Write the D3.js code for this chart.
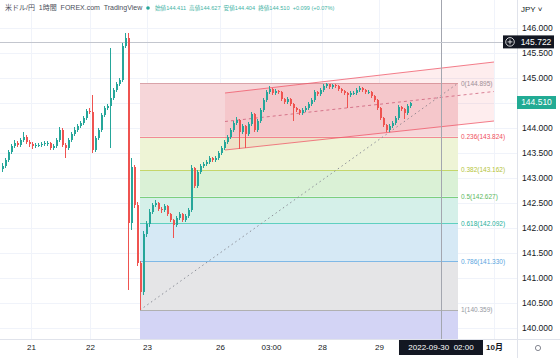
<!DOCTYPE html>
<html><head><meta charset="utf-8">
<script src="https://cdn.jsdelivr.net/npm/d3@7"></script>
<style>
html,body{margin:0;padding:0;background:#fff;}
svg{display:block;font-family:"Liberation Sans","Noto Sans CJK JP",Arial,sans-serif;}
</style></head>
<body><svg id="c" width="560" height="358"></svg>
<script>
// ---- data ----
const opens = [143.18,143.24,143.36,143.52,143.64,143.70,143.66,143.76,143.82,143.72,
143.68,143.64,143.66,143.66,143.68,143.70,143.70,143.60,143.64,143.76,
143.96,143.66,143.60,143.76,143.88,143.96,144.04,144.10,144.20,144.34,
144.32,143.56,143.80,143.96,144.26,144.40,144.44,144.60,144.76,144.88,
144.96,145.64,145.80,142.10,143.22,142.46,141.30,140.72,141.88,142.08,
142.32,142.46,142.50,142.38,142.36,142.44,142.28,142.16,142.06,142.20,
142.28,142.16,142.24,142.36,143.20,142.84,143.12,143.24,143.28,143.32,
143.40,143.36,143.40,143.50,143.60,143.72,143.82,143.96,144.10,144.16,
143.92,144.04,143.88,144.08,144.28,143.96,144.14,144.36,144.56,144.72,
144.78,144.70,144.74,144.72,144.58,144.52,144.58,144.48,144.40,144.36,
144.30,144.36,144.40,144.48,144.56,144.72,144.68,144.76,144.84,144.88,
144.82,144.86,144.84,144.78,144.74,144.70,144.66,144.70,144.70,144.76,
144.80,144.76,144.72,144.72,144.64,144.56,144.40,144.20,144.06,143.96,
144.04,144.10,144.20,144.42,144.38,144.30,144.44];
const closes = [143.24,143.36,143.52,143.64,143.70,143.66,143.76,143.82,143.72,143.68,
143.64,143.66,143.66,143.68,143.70,143.70,143.60,143.64,143.76,143.96,
143.66,143.60,143.76,143.88,143.96,144.04,144.10,144.20,144.34,144.32,
143.56,143.80,143.96,144.26,144.40,144.44,144.60,144.76,144.88,144.96,
145.64,145.80,142.10,143.22,142.46,141.30,140.72,141.88,142.08,142.32,
142.46,142.50,142.38,142.36,142.44,142.28,142.16,142.06,142.20,142.28,
142.16,142.24,142.36,143.20,142.84,143.12,143.24,143.28,143.32,143.40,
143.36,143.40,143.50,143.60,143.72,143.82,143.96,144.10,144.16,143.92,
144.04,143.88,144.08,144.28,143.96,144.14,144.36,144.56,144.72,144.78,
144.70,144.74,144.72,144.58,144.52,144.58,144.48,144.40,144.36,144.30,
144.36,144.40,144.48,144.56,144.72,144.68,144.76,144.84,144.88,144.82,
144.86,144.84,144.78,144.74,144.70,144.66,144.70,144.70,144.76,144.80,
144.76,144.72,144.72,144.64,144.56,144.40,144.20,144.06,143.96,144.04,
144.10,144.20,144.42,144.38,144.30,144.44,144.51];
const highs = [143.30,143.40,143.56,143.68,143.76,143.74,143.80,143.92,143.86,143.76,
143.72,143.70,143.70,143.72,143.74,143.74,143.72,143.68,143.80,144.02,
144.00,143.70,143.80,143.92,144.02,144.08,144.14,144.24,144.38,144.40,
144.66,143.84,144.00,144.30,144.44,144.48,145.60,144.80,144.92,145.00,
145.70,145.90,145.90,143.40,143.26,142.52,141.34,141.95,142.14,142.38,
142.50,142.56,142.52,142.42,142.48,142.46,142.30,142.18,142.24,142.32,
142.30,142.28,142.40,143.26,143.22,143.16,143.28,143.32,143.36,143.44,
143.42,143.44,143.54,143.64,143.76,143.86,144.00,144.14,144.22,144.18,
144.08,144.06,144.12,144.32,144.30,144.18,144.40,144.60,144.76,144.84,
144.80,144.78,144.76,144.74,144.60,144.62,144.60,144.50,144.42,144.38,
144.40,144.44,144.52,144.60,144.76,144.74,144.80,144.88,144.895,144.89,
144.89,144.88,144.86,144.80,144.76,144.72,144.74,144.74,144.80,144.84,
144.82,144.78,144.76,144.74,144.66,144.58,144.42,144.22,144.08,144.08,
144.14,144.24,144.46,144.44,144.40,144.48,144.53];
const lows = [143.12,143.20,143.32,143.48,143.60,143.62,143.62,143.72,143.68,143.62,
143.58,143.60,143.62,143.62,143.64,143.64,143.56,143.56,143.60,143.72,
143.62,143.40,143.56,143.72,143.84,143.92,144.00,144.06,144.16,144.28,
143.50,143.52,143.76,143.92,144.22,144.36,143.60,144.56,144.72,144.84,
144.92,145.60,140.76,141.96,142.40,141.25,140.36,140.66,141.82,142.02,
142.28,142.42,142.34,142.30,142.32,142.24,142.12,141.80,142.02,142.16,
142.12,142.12,142.20,142.32,142.80,142.80,143.08,143.20,143.24,143.28,
143.32,143.32,143.36,143.46,143.56,143.68,143.78,143.92,144.06,143.58,
143.88,143.60,143.84,144.04,143.92,143.92,144.10,144.32,144.52,144.68,
144.66,144.66,144.68,144.54,144.48,144.48,144.44,144.14,144.32,144.26,
144.26,144.32,144.36,144.44,144.52,144.64,144.64,144.72,144.80,144.78,
144.78,144.80,144.74,144.70,144.66,144.40,144.62,144.66,144.66,144.72,
144.72,144.68,144.68,144.60,144.52,144.36,144.16,144.02,143.92,143.92,
144.00,144.06,144.16,144.34,144.18,144.26,144.40];

const priceTicks = [140,140.5,141,141.5,142,142.5,143,143.5,144,144.5,145,145.5,146];
const timeTickPos = [9.67,29.33,48.33,72.67,89.67,106.67,125.67,164];
const timeTickLabels = ["21","22","23","26","03:00","28","29","10月"];

const fibRatios = [0,0.236,0.382,0.5,0.618,0.786,1];
const fibPrices = [144.895,143.824,143.162,142.627,142.092,141.330,140.359];
const fibExtPrice = 137.556; // 1.618 level (off-screen)
const fibLineColors = ["#d9a3a9","#f28b95","#c5d66a","#7ccf7e","#5fd0c0","#7fb8e6","#b0b0b0"];
const fibBandColors = ["#f6d6d9","#eef4d6","#daf1d6","#d5f0e9","#d6e9f5","#e5e5e7","#d3d4f5"];
const fibLabelColors = ["#9598a1","#ef4f5c","#b4c43a","#5cb860","#26b09b","#5aa6e0","#9598a1"];
const fibStartIdx = 46, fibEndIdx = 152;

const channelIdx = [74.33, 164];
const channelUpper = [144.70, 145.32];
const channelLower = [143.56, 144.14];

const crossIdx = 146.33, crossPrice = 145.722, crossTimeLabel = "2022-09-30  02:00";
const lastPrice = 144.510;
const headerTitle = "米ドル/円  1時間  FOREX.com  TradingView";
const headerOHLC = "始値144.411  高値144.627  安値144.404  終値144.510  +0.099 (+0.07%)";

// ---- layout ----
const W = 560, H = 358, plotR = 517, plotB = 339;
const svg = d3.select("#c");
const x = d3.scaleLinear().domain([0, 136]).range([2, 410]);
const y = d3.scaleLinear().domain([140, 146]).range([328, 28]);
const up = "#26a69a", dn = "#ef5350";

// grid
const grid = svg.append("g");
grid.selectAll("line.h").data(priceTicks).join("line")
  .attr("x1", 0).attr("x2", plotR).attr("y1", d => Math.round(y(d)) + 0.5).attr("y2", d => Math.round(y(d)) + 0.5)
  .attr("stroke", "#f0f3fa");
grid.selectAll("line.v").data(timeTickPos).join("line")
  .attr("x1", d => Math.round(x(d)) + 0.5).attr("x2", d => Math.round(x(d)) + 0.5).attr("y1", 0).attr("y2", plotB)
  .attr("stroke", "#f0f3fa");

// fib bands
const clip = svg.append("clipPath").attr("id", "pc").append("rect").attr("x", 0).attr("y", 0).attr("width", plotR).attr("height", plotB);
const fg = svg.append("g").attr("clip-path", "url(#pc)");
const bandEdges = fibPrices.concat([fibExtPrice]);
const fx0 = x(fibStartIdx), fx1 = x(fibEndIdx);
for (let i = 0; i < bandEdges.length - 1; i++) {
  fg.append("rect").attr("x", fx0).attr("width", fx1 - fx0)
    .attr("y", y(bandEdges[i])).attr("height", y(bandEdges[i + 1]) - y(bandEdges[i]))
    .attr("fill", fibBandColors[i]);
}
fg.selectAll("line.fib").data(fibPrices).join("line")
  .attr("x1", fx0).attr("x2", fx1).attr("y1", d => Math.round(y(d)) + 0.5).attr("y2", d => Math.round(y(d)) + 0.5)
  .attr("stroke", (d, i) => fibLineColors[i]).attr("stroke-width", 1);
fg.selectAll("text.fib").data(fibPrices).join("text")
  .attr("x", fx1 + 3).attr("y", d => y(d)).attr("dy", "0.35em")
  .attr("font-size", 6.5).attr("fill", (d, i) => fibLabelColors[i])
  .text((d, i) => fibRatios[i] + "(" + d.toFixed(3) + ")");
// fib trend (dotted)
fg.append("line").attr("x1", fx0).attr("y1", y(fibPrices[6])).attr("x2", fx1).attr("y2", y(fibPrices[0]))
  .attr("stroke", "#8d9099").attr("stroke-dasharray", "1.5,3").attr("stroke-width", 1);

// channel
const cx0 = x(channelIdx[0]), cx1 = x(channelIdx[1]);
fg.append("path").attr("d", d3.line()([[cx0, y(channelUpper[0])], [cx1, y(channelUpper[1])], [cx1, y(channelLower[1])], [cx0, y(channelLower[0])]]) + "Z")
  .attr("fill", "rgba(242,54,69,0.09)");
[channelUpper, channelLower].forEach(c => {
  fg.append("line").attr("x1", cx0).attr("y1", y(c[0])).attr("x2", cx1).attr("y2", y(c[1]))
    .attr("stroke", "rgba(239,83,100,0.75)").attr("stroke-width", 1);
});
fg.append("line").attr("x1", cx0).attr("y1", y((channelUpper[0] + channelLower[0]) / 2))
  .attr("x2", cx1).attr("y2", y((channelUpper[1] + channelLower[1]) / 2))
  .attr("stroke", "rgba(200,80,110,0.7)").attr("stroke-dasharray", "3,3").attr("stroke-width", 1);

// crosshair
svg.append("line").attr("x1", Math.round(x(crossIdx)) + 0.5).attr("x2", Math.round(x(crossIdx)) + 0.5)
  .attr("y1", 0).attr("y2", plotB).attr("stroke", "#a3a6af").attr("stroke-width", 1);
svg.append("line").attr("x1", 0).attr("x2", plotR).attr("y1", Math.round(y(crossPrice)) + 0.5).attr("y2", Math.round(y(crossPrice)) + 0.5)
  .attr("stroke", "#c3c6ce").attr("stroke-width", 1);

// candles
const idx = d3.range(closes.length);
const cg = svg.append("g").attr("shape-rendering", "crispEdges");
cg.selectAll("line.w").data(idx).join("line")
  .attr("x1", i => Math.round(x(i)) + 0.5).attr("x2", i => Math.round(x(i)) + 0.5)
  .attr("y1", i => y(highs[i])).attr("y2", i => y(lows[i]))
  .attr("stroke", i => closes[i] >= opens[i] ? up : dn).attr("stroke-width", 1);
cg.selectAll("rect.b").data(idx).join("rect")
  .attr("x", i => Math.round(x(i)) - 0.5).attr("width", 2)
  .attr("y", i => y(Math.max(opens[i], closes[i])))
  .attr("height", i => Math.max(1, Math.abs(y(opens[i]) - y(closes[i]))))
  .attr("fill", i => closes[i] >= opens[i] ? up : dn);

// separators
svg.append("rect").attr("x", plotR).attr("y", 0).attr("width", W - plotR).attr("height", H).attr("fill", "#fff");
svg.append("rect").attr("x", 0).attr("y", plotB).attr("width", W).attr("height", H - plotB).attr("fill", "#fff");
svg.append("line").attr("x1", plotR + 0.5).attr("x2", plotR + 0.5).attr("y1", 0).attr("y2", H).attr("stroke", "#e0e3eb");
svg.append("line").attr("x1", 0).attr("x2", W).attr("y1", plotB + 0.5).attr("y2", plotB + 0.5).attr("stroke", "#e0e3eb");

// price axis
const ya = svg.append("g").attr("transform", `translate(${plotR + 5},0)`)
  .call(d3.axisRight(y).tickValues(priceTicks).tickSize(0).tickPadding(0).tickFormat(d3.format(".3f")));
ya.select(".domain").remove();
ya.selectAll("text").attr("font-size", 8.5).attr("fill", "#131722").attr("font-family", "Liberation Sans, Arial, sans-serif");

// time axis
const xa = svg.append("g").attr("transform", `translate(0,${plotB})`)
  .call(d3.axisBottom(x).tickValues(timeTickPos).tickSize(0).tickPadding(5).tickFormat((d, i) => timeTickLabels[i]));
xa.select(".domain").remove();
xa.selectAll("text").attr("font-size", 8).attr("fill", "#131722").attr("font-family", "Liberation Sans, Noto Sans CJK JP, sans-serif")
  .attr("font-weight", (d, i) => timeTickLabels[i] === "10月" ? "bold" : null);

// time crosshair label
const tcx = x(crossIdx);
svg.append("rect").attr("x", tcx - 42).attr("y", plotB + 1).attr("width", 84).attr("height", 15).attr("fill", "#131722");
svg.append("text").attr("x", tcx).attr("y", plotB + 8.5).attr("dy", "0.35em").attr("text-anchor", "middle")
  .attr("font-size", 8).attr("fill", "#fff").attr("xml:space", "preserve").style("white-space", "pre").text(crossTimeLabel);

// price crosshair label
const pcy = y(crossPrice);
svg.append("rect").attr("x", 503).attr("y", pcy - 6.5).attr("width", 51).attr("height", 13).attr("fill", "#131722");
svg.append("circle").attr("cx", 510).attr("cy", pcy).attr("r", 4.3).attr("fill", "none").attr("stroke", "#fff").attr("stroke-width", 0.8);
svg.append("path").attr("d", `M507.6,${pcy}H512.4M510,${pcy - 2.4}V${pcy + 2.4}`).attr("stroke", "#fff").attr("stroke-width", 0.8);
svg.append("text").attr("x", 536).attr("y", pcy).attr("dy", "0.35em").attr("text-anchor", "middle")
  .attr("font-size", 8.5).attr("fill", "#fff").text(crossPrice.toFixed(3));

// last price label
const lpy = y(lastPrice);
svg.append("rect").attr("x", plotR).attr("y", lpy - 6.5).attr("width", 39).attr("height", 13).attr("fill", "#22ab94");
svg.append("text").attr("x", plotR + 19.5).attr("y", lpy).attr("dy", "0.35em").attr("text-anchor", "middle")
  .attr("font-size", 8.5).attr("fill", "#fff").text(lastPrice.toFixed(3));

// JPY label and gear
svg.append("text").attr("x", 521).attr("y", 9).attr("dy", "0.35em").attr("font-size", 8).attr("fill", "#131722").text("JPY ˅");
svg.append("circle").attr("cx", 538).attr("cy", 348).attr("r", 2.6).attr("fill", "none").attr("stroke", "#787b86").attr("stroke-width", 0.9);

// header
svg.append("text").attr("x", 5).attr("y", 8).attr("dy", "0.35em").attr("font-size", 7).attr("fill", "#4a4e59")
  .attr("xml:space", "preserve").style("white-space", "pre").text(headerTitle);
svg.append("circle").attr("cx", 148).attr("cy", 8).attr("r", 1.8).attr("fill", "#26a69a");
svg.append("text").attr("x", 155).attr("y", 8).attr("dy", "0.35em").attr("font-size", 5.6).attr("fill", "#3fb3a5")
  .attr("xml:space", "preserve").style("white-space", "pre").text(headerOHLC);
</script></body></html>
